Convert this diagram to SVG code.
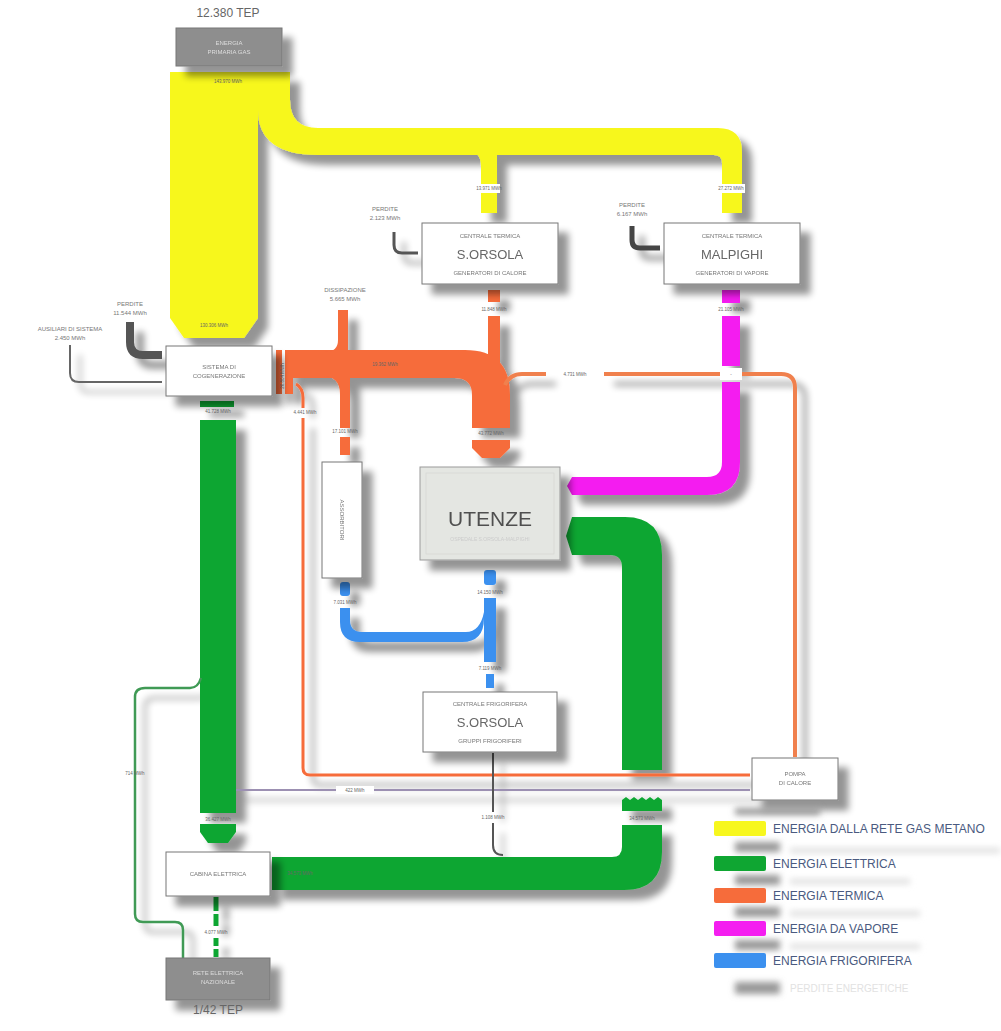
<svg xmlns="http://www.w3.org/2000/svg" width="1001" height="1031" viewBox="0 0 1001 1031">
<defs>
<filter id="sh" filterUnits="userSpaceOnUse" x="0" y="0" width="1001" height="1031">
<feGaussianBlur in="SourceAlpha" stdDeviation="3.5"/>
<feOffset dx="10" dy="10"/>
<feComponentTransfer><feFuncA type="linear" slope="0.42"/></feComponentTransfer>
<feMerge><feMergeNode/><feMergeNode in="SourceGraphic"/></feMerge>
</filter>
<filter id="bl" x="-50%" y="-50%" width="200%" height="200%"><feGaussianBlur stdDeviation="3"/></filter>
<style>
text{font-family:"Liberation Sans",Arial,sans-serif}
.box{fill:#fff;stroke:#777;stroke-width:1}
.gbox{fill:#8e8e8e;stroke:#777;stroke-width:1}
.t{font-size:6px;fill:#777;text-anchor:middle}
.tb{font-size:13px;fill:#666;text-anchor:middle}
.tw{font-size:6px;fill:#ddd;text-anchor:middle}
.v{font-size:4.5px;fill:#666;text-anchor:middle}
.lg{font-size:12px;fill:#4a5a80}
.ye{fill:#f7f71e}.gr{fill:#0fa632}.or{fill:#f66c3b}.ma{fill:#f41ef0}.bu{fill:#3b90ef}
.gap{fill:#fff}
</style>
</defs>
<rect width="1001" height="1031" fill="#fff"/>

<g id="connectors">
<g filter="url(#sh)">
<!-- yellow -->
<path class="ye" d="M170,72 H258 V318 L244,338 H184 L170,318 Z"/>
<path class="ye" d="M258,72 H290 V100 Q290,128 318,128 H718 Q742,128 742,152 V213 H722 V163 Q722,155 714,155 H318 Q258,155 258,110 Z"/>
<path class="ye" d="M465,150 Q481,150 481,166 V213 H497 V150 Z"/>
<!-- orange -->
<path class="or" d="M290,350 H465 Q510,350 510,395 V428 H472 V395 Q472,378 455,378 H290 Z"/>
<path class="or" d="M472,440 H510 V448 L500,458 H482 L472,448 Z"/>
<rect class="or" x="488" y="290" width="12" height="12"/>
<rect class="or" x="488" y="316" width="12" height="66"/>
<path class="or" d="M325,352 Q338,352 338,340 V310 H348 V352 Z"/>
<path class="or" d="M322,376 Q340,376 340,394 V428 H350 V376 Z"/>
<rect class="or" x="340" y="437" width="10" height="18"/>
<rect class="or" x="276" y="350" width="6" height="44"/>
<rect class="or" x="285" y="350" width="8" height="44"/>
<path d="M296,384 Q303,388 303,398 V408" fill="none" stroke="#f66c3b" stroke-width="3"/>
<path d="M303,418 V768 Q303,775 310,775 H750" fill="none" stroke="#f66c3b" stroke-width="3"/>
<path d="M795,757 V388 Q795,374 781,374 H604" fill="none" stroke="#f0804e" stroke-width="4"/>
<path d="M546,374 H522 Q510,374 505,385" fill="none" stroke="#f0804e" stroke-width="4"/>
<!-- magenta -->
<rect class="ma" x="722" y="290" width="18" height="13"/>
<rect class="ma" x="722" y="316" width="18" height="50"/>
<path class="ma" d="M722,382 H740 V462 Q740,495 707,495 H572 L567,486 L572,477 H707 Q722,477 722,462 Z"/>
<!-- green -->
<path class="gr" d="M572,517 H625 Q662,517 662,555 V770 H622 V567 Q622,555 610,555 H572 L566,536 Z"/>
<path class="gr" d="M622,800 l4,-3 l4,3 l4,-3 l4,3 l4,-3 l4,3 l4,-3 l4,3 l4,-3 l4,3 V811 H622 Z"/>
<path class="gr" d="M622,825 H662 V852 Q662,890 624,890 H272 V857 H612 Q622,857 622,847 Z"/>
<rect class="gr" x="200" y="401" width="34" height="6"/>
<path class="gr" d="M200,420 H236 V813 H200 Z"/>
<path class="gr" d="M200,824 H236 V832 L228,843 H208 L200,832 Z"/>
<path d="M183,958 V930 Q183,922 175,922 H143 Q135,922 135,914 V697 Q135,688 145,688 H190 Q198,688 201,678" fill="none" stroke="#3f9a55" stroke-width="2.5"/>
<line x1="216" y1="897" x2="216" y2="926" stroke="#0fa632" stroke-width="5" stroke-dasharray="14,3"/>
<line x1="216" y1="938" x2="216" y2="958" stroke="#0fa632" stroke-width="5" stroke-dasharray="8,3"/>
<!-- blue -->
<rect class="bu" x="484" y="570" width="12" height="15" rx="3"/>
<rect class="bu" x="484" y="598" width="12" height="64"/>
<path class="bu" d="M484,618 Q484,642 462,642 H360 Q340,642 340,622 V608 H350 V620 Q350,632 362,632 H466 Q480,632 484,612 Z"/>
<rect class="bu" x="340" y="582" width="10" height="14" rx="3"/>
<rect class="bu" x="486" y="674" width="8" height="14"/>
<!-- gray -->
<path d="M130,322 V342 Q130,355 143,355 H162" fill="none" stroke="#555" stroke-width="8"/>
<path d="M70,345 V373 Q70,382 79,382 H162" fill="none" stroke="#666" stroke-width="2"/>
<path d="M394,232 V245 Q394,253 402,253 H418" fill="none" stroke="#555" stroke-width="3"/>
<path d="M632,226 V240 Q632,248 640,248 H660" fill="none" stroke="#444" stroke-width="5"/>
<path d="M236,790 H750" fill="none" stroke="#9c90b2" stroke-width="2"/>
<path d="M493,753 V812 M493,823 V845 Q493,855 503,855" fill="none" stroke="#555" stroke-width="2"/>
</g>
<!-- value labels -->
<text class="v" x="228" y="83">143.970 MWh</text>
<text class="v" x="214" y="327">130.306 MWh</text>
<rect class="gap" x="478" y="184" width="22" height="9"/>
<text class="v" x="489" y="190">13.971 MWh</text>
<rect class="gap" x="719" y="184" width="26" height="9"/>
<text class="v" x="731" y="190">27.272 MWh</text>
<text class="v" x="494" y="311">11.848 MWh</text>
<text class="v" x="731" y="311">21.105 MWh</text>
<rect class="gap" x="720" y="368" width="22" height="12"/>
<text class="v" x="731" y="376">-</text>
<text class="v" x="385" y="366">19.362 MWh</text>
<text class="v" x="491" y="435">43.772 MWh</text>
<text class="v" x="345" y="433">17.101 MWh</text>
<text class="v" x="305" y="414">4.441 MWh</text>
<text class="v" x="575" y="376">4.731 MWh</text>
<text class="v" x="218" y="413">41.728 MWh</text>
<text class="v" x="218" y="821">36.427 MWh</text>
<text class="v" x="642" y="820">34.573 MWh</text>
<text class="v" x="300" y="875">34.573 MWh</text>
<text class="v" x="216" y="934">4.077 MWh</text>
<text class="v" x="135" y="775">714 MWh</text>
<rect class="gap" x="336" y="786" width="38" height="8"/>
<text class="v" x="355" y="792">422 MWh</text>
<text class="v" x="493" y="819">1.108 MWh</text>
<text class="v" x="490" y="594">14.150 MWh</text>
<text class="v" x="345" y="604">7.031 MWh</text>
<text class="v" x="490" y="670">7.119 MWh</text>
<text class="v" x="280" y="372" transform="rotate(-90 284 372)">26.804 MWh</text>
</g>

<text x="228" y="17" font-size="12" fill="#666" text-anchor="middle">12.380 TEP</text>

<g id="n-gas" filter="url(#sh)"><rect class="gbox" x="176" y="28" width="106" height="38"/>
<text class="tw" x="229" y="45">ENERGIA</text><text class="tw" x="229" y="54">PRIMARIA GAS</text></g>

<g id="n-cog" filter="url(#sh)"><rect class="box" x="166" y="346" width="106" height="50"/>
<text class="t" x="219" y="369">SISTEMA DI</text><text class="t" x="219" y="378">COGENERAZIONE</text></g>

<g id="n-perdite-cog"><text class="t" x="130" y="306">PERDITE</text><text class="t" x="130" y="315">11.544 MWh</text></g>
<g id="n-aus"><text class="t" x="70" y="331">AUSILIARI DI SISTEMA</text><text class="t" x="70" y="340">2.450 MWh</text></g>
<g id="n-diss"><text class="t" x="345" y="292">DISSIPAZIONE</text><text class="t" x="345" y="301">5.665 MWh</text></g>

<g id="n-ct-so" filter="url(#sh)"><rect class="box" x="422" y="223" width="136" height="61"/>
<text class="t" x="490" y="238">CENTRALE TERMICA</text>
<text class="tb" x="490" y="259">S.ORSOLA</text>
<text class="t" x="490" y="275">GENERATORI DI CALORE</text></g>
<g id="n-perdite-so"><text class="t" x="385" y="211">PERDITE</text><text class="t" x="385" y="220">2.123 MWh</text></g>

<g id="n-ct-ma" filter="url(#sh)"><rect class="box" x="664" y="223" width="136" height="61"/>
<text class="t" x="732" y="238">CENTRALE TERMICA</text>
<text class="tb" x="732" y="259">MALPIGHI</text>
<text class="t" x="732" y="275">GENERATORI DI VAPORE</text></g>
<g id="n-perdite-ma"><text class="t" x="632" y="207">PERDITE</text><text class="t" x="632" y="216">6.167 MWh</text></g>

<g id="n-ass" filter="url(#sh)"><rect class="box" x="322" y="462" width="40" height="116"/>
<text class="t" x="0" y="0" transform="translate(340 520) rotate(90)">ASSORBITORI</text></g>

<g id="n-utenze" filter="url(#sh)"><rect x="420" y="467" width="140" height="93" fill="#e4e6e2" stroke="#999"/>
<rect x="426" y="473" width="128" height="81" fill="none" stroke="#d2d4d0" stroke-width="0.6"/>
<text x="490" y="526" font-size="21" fill="#505050" text-anchor="middle">UTENZE</text>
<text x="490" y="541" font-size="5" fill="#ccc" text-anchor="middle">OSPEDALE S.ORSOLA-MALPIGHI</text></g>

<g id="n-cf-so" filter="url(#sh)"><rect class="box" x="423" y="692" width="134" height="60"/>
<text class="t" x="490" y="706">CENTRALE FRIGORIFERA</text>
<text class="tb" x="490" y="727">S.ORSOLA</text>
<text class="t" x="490" y="743">GRUPPI FRIGORIFERI</text></g>

<g id="n-pompa" filter="url(#sh)"><rect class="box" x="752" y="758" width="86" height="42"/>
<text class="t" x="795" y="776">POMPA</text><text class="t" x="795" y="785">DI CALORE</text></g>

<g id="n-cabina" filter="url(#sh)"><rect class="box" x="166" y="852" width="104" height="44"/>
<text class="t" x="218" y="876">CABINA ELETTRICA</text></g>

<g id="n-rete" filter="url(#sh)"><rect class="gbox" x="166" y="958" width="104" height="42"/>
<text class="tw" x="218" y="975">RETE ELETTRICA</text><text class="tw" x="218" y="984">NAZIONALE</text></g>
<text x="218" y="1014" font-size="12" fill="#666" text-anchor="middle">1/42 TEP</text>

<g id="legend">
<g filter="url(#bl)" fill="#999">
<rect x="735" y="808" width="85" height="7"/>
<rect x="735" y="842" width="45" height="10"/><rect x="790" y="848" width="210" height="5" fill="#ddd"/>
<rect x="735" y="875" width="45" height="10"/><rect x="790" y="879" width="120" height="5" fill="#ddd"/>
<rect x="735" y="907" width="45" height="10"/><rect x="790" y="911" width="130" height="5" fill="#ddd"/>
<rect x="735" y="940" width="45" height="10"/><rect x="790" y="944" width="130" height="5" fill="#ddd"/>
<rect x="735" y="982" width="45" height="12"/>
</g>
<rect class="ye" x="714" y="821" width="52" height="15" rx="2"/><text class="lg" x="773" y="833">ENERGIA DALLA RETE GAS METANO</text>
<rect class="gr" x="714" y="856" width="52" height="15" rx="2"/><text class="lg" x="773" y="868">ENERGIA ELETTRICA</text>
<rect class="or" x="714" y="888" width="52" height="15" rx="2"/><text class="lg" x="773" y="900">ENERGIA TERMICA</text>
<rect class="ma" x="714" y="921" width="52" height="15" rx="2"/><text class="lg" x="773" y="933">ENERGIA DA VAPORE</text>
<rect class="bu" x="714" y="953" width="52" height="15" rx="2"/><text class="lg" x="773" y="965">ENERGIA FRIGORIFERA</text>
<text x="790" y="992" font-size="10" fill="#e2e2e2">PERDITE ENERGETICHE</text>
</g>
</svg>
